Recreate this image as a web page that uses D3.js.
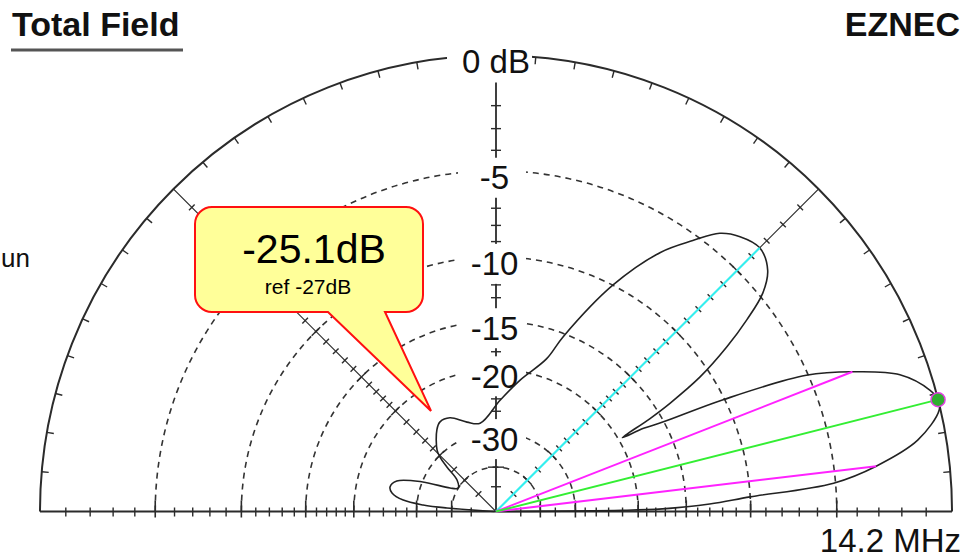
<!DOCTYPE html>
<html>
<head>
<meta charset="utf-8">
<script src="https://cdn.jsdelivr.net/npm/d3@7"></script>
<style>
  html, body { margin: 0; padding: 0; background: #fff; }
  svg { display: block; }
  text { font-family: "Liberation Sans", Arial, Helvetica, sans-serif; }
</style>
</head>
<body>
<svg id="chart" width="967" height="559"></svg>
<script>
// Elevation pattern, total field, dB relative to the pattern maximum
const patternAngles = [0, 0.5, 0.9, 2, 3.3, 4.8, 6.8, 9.6, 12.9, 14.2, 15.6, 18.7, 21.4, 23.7, 26.2, 28.2,
  29.4, 30.3, 31.1, 31.9, 33.4, 35.5, 37.4, 39.3, 41.6, 45, 48.4, 51.2, 54.0, 57.6, 62.7, 69, 71.7, 79.7,
  87.9, 100.2, 108, 116.2, 122, 125.9, 133.8, 135.8, 137.8, 141, 148.3, 152.9, 158, 162.9, 167, 169.9,
  173, 174.9, 175.9, 180];
const patternDb = [-99, -22, -17.3, -13, -10, -5.1, -3.0, -1.1, -0.05, 0, -0.2, -1.15, -3.0, -5.1, -10.1, -15.1,
  -17, -19.5, -16, -13.7, -10.7, -8.15, -6.3, -4.8, -3.9, -3.45, -3.7, -4.2, -5.3, -6.8, -10, -15.3, -17.9, -21.1,
  -24.2, -27.9, -27.1, -25.3, -25.1, -25.9, -28.8, -30.3, -33.1, -37.9, -39.9, -37.4, -30.1, -25.4, -24.6, -25.1,
  -27.2, -31.4, -38.2, -99];

// Markers: maximum, half-power points, cursor
const maxAngle = 14.2, maxDb = 0;
const halfPowerAngles = [6.8, 21.4];
const halfPowerDb = -3;
const cursorAngle = 45, cursorDb = -3.45;

// Callout
const calloutAngle = 122, calloutDb = -25.1, refDb = -27;

// Grid
const ringDb = [-5, -10, -15, -20, -30, -40];
const ringLabels = ["-5", "-10", "-15", "-20", "-30"];
const majorTickDb = [-5, -10, -15, -20, -30, -40];
const minorTickDb = [-1, -2, -3, -4, -6, -7, -8, -9, -11, -12, -13, -14, -16, -17, -18, -19,
  -22, -24, -26, -28, -35, -50];
const radialAxisAngles = [45, 90, 135];
const outerTickAngles = d3.range(5, 180, 5).filter(a => !radialAxisAngles.includes(a));

const titleText = "Total Field";
const brandText = "EZNEC";
const freqText = "14.2 MHz";
const sideText = "un";
const topLabel = "0 dB";

const svg = d3.select("#chart");
const cx = 496, cy = 511.5, R = 456;
const ink = "#2b2b2b";

// ARRL-style log radius: every 2 dB down shrinks the radius by 0.89
const logR = d3.scaleLinear().domain([0, -2]).range([Math.log(R), Math.log(R * 0.89)]);
const rad = db => Math.exp(logR(db));
// elevation degrees -> lineRadial angle (clockwise from 12 o'clock)
const ang = d3.scaleLinear().domain([0, 180]).range([Math.PI / 2, -Math.PI / 2]);
const pt = (deg, db) => {
  const a = ang(deg), r = rad(db);
  return [cx + r * Math.sin(a), cy - r * Math.cos(a)];
};

const grid = svg.append("g");

// dashed dB rings
ringDb.forEach(db => {
  const p = d3.path();
  p.arc(cx, cy, rad(db), Math.PI, 2 * Math.PI);
  grid.append("path").attr("d", p.toString())
    .attr("fill", "none").attr("stroke", "#333").attr("stroke-width", 1.6)
    .attr("stroke-dasharray", "6,5");
});

// outer 0 dB arc
{
  const p = d3.path();
  p.arc(cx, cy, rad(0), Math.PI, 2 * Math.PI);
  grid.append("path").attr("d", p.toString())
    .attr("fill", "none").attr("stroke", ink).attr("stroke-width", 2);
}

// outer arc angle ticks
outerTickAngles.forEach(deg => {
  const t = deg * Math.PI / 180;
  const dx = Math.cos(t), dy = -Math.sin(t);
  grid.append("line")
    .attr("x1", cx + R * dx).attr("y1", cy + R * dy)
    .attr("x2", cx + (R - 7) * dx).attr("y2", cy + (R - 7) * dy)
    .attr("stroke", ink).attr("stroke-width", 1.4);
});

// baseline
grid.append("line").attr("x1", cx - R).attr("x2", cx + R).attr("y1", cy).attr("y2", cy)
  .attr("stroke", ink).attr("stroke-width", 2);

// baseline ticks, both sides of centre
[1, -1].forEach(side => {
  majorTickDb.forEach(db => {
    const x = cx + side * rad(db);
    grid.append("line").attr("x1", x).attr("x2", x).attr("y1", cy - 11).attr("y2", cy + 6)
      .attr("stroke", ink).attr("stroke-width", 1.6);
  });
  minorTickDb.forEach(db => {
    const x = cx + side * rad(db);
    grid.append("line").attr("x1", x).attr("x2", x).attr("y1", cy - 4).attr("y2", cy + 5)
      .attr("stroke", ink).attr("stroke-width", 1.4);
  });
});

// radial axes (45, 90, 135 deg) with dB ticks
radialAxisAngles.forEach(deg => {
  const end = pt(deg, 0);
  const w = deg === 90 ? 1.8 : 1.2;
  grid.append("line").attr("x1", cx).attr("y1", cy).attr("x2", end[0]).attr("y2", end[1])
    .attr("stroke", ink).attr("stroke-width", w);
  const t = deg * Math.PI / 180;
  const px = Math.sin(t), py = Math.cos(t);
  const tick = (db, h) => {
    const [x, y] = pt(deg, db);
    grid.append("line")
      .attr("x1", x - h * px).attr("y1", y - h * py)
      .attr("x2", x + h * px).attr("y2", y + h * py)
      .attr("stroke", ink).attr("stroke-width", 1.4);
  };
  majorTickDb.forEach(db => tick(db, deg === 90 ? 8 : 6));
  minorTickDb.forEach(db => tick(db, deg === 90 ? 5 : 4));
});

// value labels on the vertical axis, on white boxes
const labels = svg.append("g");
{
  const [x0, y0] = pt(90, 0);
  labels.append("rect").attr("x", x0 - 49).attr("y", y0 - 11).attr("width", 85).attr("height", 38)
    .attr("fill", "#fff");
  labels.append("text").attr("x", x0).attr("y", y0 + 17.5).attr("text-anchor", "middle")
    .attr("font-size", 33).attr("fill", "#111").text(topLabel);
}
ringLabels.forEach((lab, i) => {
  const [x, y] = pt(90, ringDb[i]);
  const cyl = y + 7;
  labels.append("rect").attr("x", x - 38).attr("y", cyl - 20).attr("width", 68).attr("height", 40)
    .attr("fill", "#fff");
  labels.append("text").attr("x", x - 1.5).attr("y", cyl + 11.5).attr("text-anchor", "middle")
    .attr("font-size", 33).attr("fill", "#111").text(lab);
});

// pattern trace
const pattern = patternAngles.map((a, i) => ({ a, db: patternDb[i] }));
const radial = d3.lineRadial()
  .angle(d => ang(d.a))
  .radius(d => rad(d.db))
  .curve(d3.curveCatmullRom.alpha(0.5));
svg.append("path")
  .attr("transform", `translate(${cx},${cy})`)
  .attr("d", radial(pattern))
  .attr("fill", "none").attr("stroke", "#222").attr("stroke-width", 1.6);

// marker lines
const ray = (deg, db, color) => {
  const [x, y] = pt(deg, db);
  svg.append("line").attr("x1", cx).attr("y1", cy).attr("x2", x).attr("y2", y)
    .attr("stroke", color).attr("stroke-width", 2);
};
ray(cursorAngle, cursorDb, "#33f0f0");
halfPowerAngles.forEach(a => ray(a, halfPowerDb, "#ff22ff"));
ray(maxAngle, maxDb, "#33ee33");
{
  const [x, y] = pt(maxAngle, maxDb);
  svg.append("circle").attr("cx", x).attr("cy", y).attr("r", 7)
    .attr("fill", "#2fae2f").attr("stroke", "#e040e0").attr("stroke-width", 1.5);
}

// callout bubble pointing at the pattern
{
  const [px, py] = pt(calloutAngle, calloutDb);
  const tipX = px - 9, tipY = py - 11;
  const x0 = 195, y0 = 207, x1 = 423, y1 = 312, r = 17;
  const b0 = 328, b1 = 385;
  const p = d3.path();
  p.moveTo(x0 + r, y0);
  p.lineTo(x1 - r, y0);
  p.arcTo(x1, y0, x1, y0 + r, r);
  p.lineTo(x1, y1 - r);
  p.arcTo(x1, y1, x1 - r, y1, r);
  p.lineTo(b1, y1);
  p.lineTo(tipX, tipY);
  p.lineTo(b0, y1);
  p.lineTo(x0 + r, y1);
  p.arcTo(x0, y1, x0, y1 - r, r);
  p.lineTo(x0, y0 + r);
  p.arcTo(x0, y0, x0 + r, y0, r);
  p.closePath();
  svg.append("path").attr("d", p.toString())
    .attr("fill", "#ffff99").attr("stroke", "#ff1010").attr("stroke-width", 2);
  svg.append("text").attr("x", 314).attr("y", 263).attr("text-anchor", "middle")
    .attr("font-size", 41).attr("fill", "#000").text(`${calloutDb.toFixed(1)}dB`);
  svg.append("text").attr("x", 308).attr("y", 294).attr("text-anchor", "middle")
    .attr("font-size", 21).attr("fill", "#000").text(`ref ${refDb}dB`);
}

// titles
svg.append("text").attr("x", 12).attr("y", 36).attr("font-size", 34).attr("font-weight", "bold")
  .attr("fill", "#111").text(titleText);
svg.append("rect").attr("x", 11).attr("y", 48.5).attr("width", 172).attr("height", 3).attr("fill", "#555");
svg.append("text").attr("x", 960).attr("y", 36).attr("text-anchor", "end").attr("font-size", 34)
  .attr("font-weight", "bold").attr("fill", "#111").text(brandText);
svg.append("text").attr("x", 961).attr("y", 552).attr("text-anchor", "end").attr("font-size", 33)
  .attr("fill", "#111").text(freqText);
svg.append("text").attr("x", 1).attr("y", 267).attr("font-size", 26)
  .attr("fill", "#111").text(sideText);
</script>
</body>
</html>
